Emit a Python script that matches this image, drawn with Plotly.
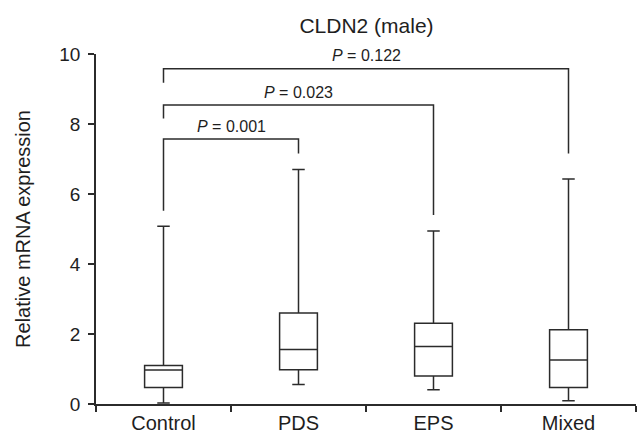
import plotly.graph_objects as go

# ---- data ----
groups = ["Control", "PDS", "EPS", "Mixed"]
lower_whisker = [0.03, 0.56, 0.41, 0.09]
q1 = [0.47, 0.98, 0.80, 0.47]
median = [0.97, 1.56, 1.64, 1.26]
q3 = [1.10, 2.60, 2.31, 2.12]
upper_whisker = [5.08, 6.70, 4.94, 6.43]

# comparison brackets (Control vs each group)
cmp_left = ["Control", "Control", "Control"]
cmp_right = ["PDS", "EPS", "Mixed"]
cmp_height = [7.57, 8.54, 9.58]
cmp_left_leg_end = [5.52, 8.16, 9.18]
cmp_right_leg_end = [7.16, 5.40, 7.16]
cmp_p_text = ["0.001", "0.023", "0.122"]

title_text = "CLDN2 (male)"
y_title = "Relative mRNA expression"
y_ticks = [0, 2, 4, 6, 8, 10]

LINE = "#2b2b2b"
TEXT = "#1e1e1e"
FONT = "Liberation Sans, Arial, sans-serif"

W, H = 641, 437
ML, MR, MT, MB = 96, 4.5, 54, 32.7
PW = W - ML - MR
PH = H - MT - MB

fig = go.Figure()
fig.add_trace(go.Box(
    x=groups, q1=q1, median=median, q3=q3,
    lowerfence=lower_whisker, upperfence=upper_whisker,
    boxpoints=False, width=0.28, whiskerwidth=0.33,
    fillcolor="white", line=dict(color=LINE, width=1.5),
    showlegend=False, hoverinfo="skip",
))

for i in range(len(cmp_right)):
    fig.add_trace(go.Scatter(
        x=[cmp_left[i], cmp_left[i], cmp_right[i], cmp_right[i]],
        y=[cmp_left_leg_end[i], cmp_height[i], cmp_height[i], cmp_right_leg_end[i]],
        mode="lines", line=dict(color=LINE, width=1.5),
        showlegend=False, hoverinfo="skip",
    ))
    xl = groups.index(cmp_left[i])
    xr = groups.index(cmp_right[i])
    fig.add_annotation(
        x=(xl + xr) / 2, y=cmp_height[i] + 0.37, xref="x", yref="y",
        text="<i>P</i> = " + cmp_p_text[i], showarrow=False,
        font=dict(family=FONT, size=16, color=TEXT),
        xanchor="center", yanchor="middle",
    )

# y-axis title as a rotated annotation
fig.add_annotation(
    x=(23 - ML) / PW, y=(MT + PH - 229) / PH, xref="paper", yref="paper",
    text=y_title, textangle=-90, showarrow=False,
    font=dict(family=FONT, size=20, color=TEXT),
    xanchor="center", yanchor="middle",
)

fig.update_layout(
    width=W, height=H,
    margin=dict(l=ML, r=MR, t=MT, b=MB, autoexpand=False),
    paper_bgcolor="white", plot_bgcolor="white",
    font=dict(family=FONT, color=TEXT),
    title=dict(text=title_text, x=366.5 / W, xanchor="center",
               y=1 - 26 / H, yanchor="middle",
               font=dict(family=FONT, size=21, color=TEXT)),
)

fig.update_xaxes(
    type="category", categoryorder="array", categoryarray=groups,
    range=[-0.5, 3.5], showgrid=False, zeroline=False,
    showline=True, linecolor=LINE, linewidth=1.5,
    ticks="outside", tickson="boundaries", ticklen=6, tickwidth=1.5,
    tickcolor=LINE, tickfont=dict(family=FONT, size=20, color=TEXT),
    automargin=False,
)
fig.update_yaxes(
    range=[0, 10], tickvals=y_ticks, showgrid=False, zeroline=False,
    showline=True, linecolor=LINE, linewidth=1.5,
    ticks="outside", ticklen=6, tickwidth=1.5, tickcolor=LINE,
    tickfont=dict(family=FONT, size=19, color=TEXT),
    ticklabelstandoff=4,
    automargin=False,
)

fig.write_html(
    "out.html",
    config={"displayModeBar": False},
    post_script="document.body.style.margin='0';document.body.style.overflow='hidden';",
)
